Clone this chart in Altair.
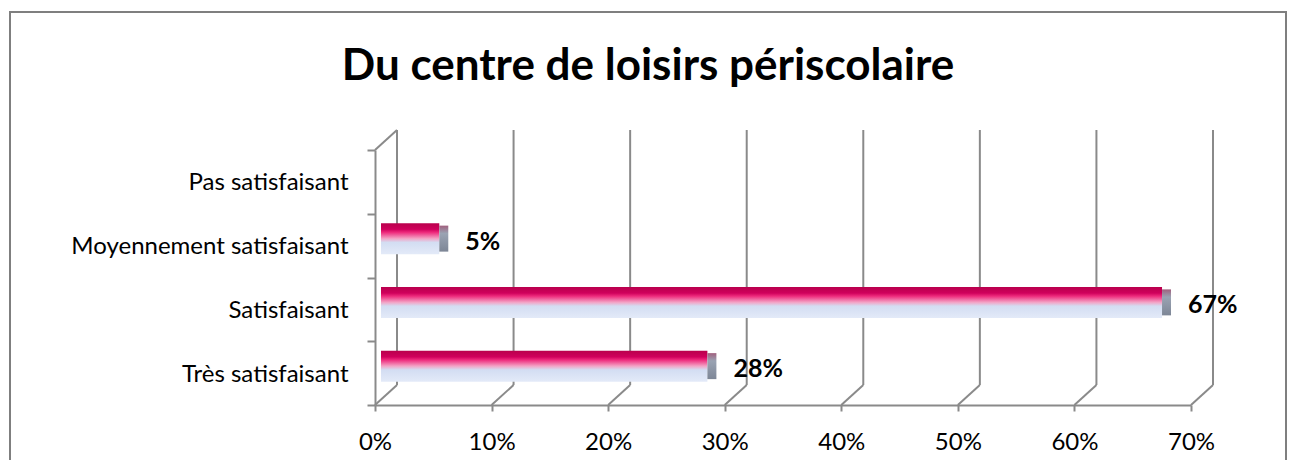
import altair as alt
import pandas as pd

TITLE = "Du centre de loisirs périscolaire"
categories = ["Pas satisfaisant", "Moyennement satisfaisant", "Satisfaisant", "Très satisfaisant"]
values = [0.0, 0.05, 0.67, 0.28]
labels = ["", "5%", "67%", "28%"]
ticks = [0.0, 0.1, 0.2, 0.3, 0.4, 0.5, 0.6, 0.7]

df = pd.DataFrame({"cat": categories, "value": values, "label": labels})
tdf = pd.DataFrame({"t": ticks})
one = pd.DataFrame({"t": [0]})

W, H = 816, 255
FONT = "Lato"
GRID = "#8a8a8a"

xscale = alt.Scale(domain=[0, 0.7], nice=False, zero=True)
yscale = alt.Scale(domain=categories, paddingInner=0, paddingOuter=0)

ax_x = alt.Axis(format=".0%", values=ticks, grid=False, domainColor=GRID, domainWidth=2,
                tickColor=GRID, tickWidth=2, tickSize=6, labelFontSize=24, labelFont=FONT,
                labelColor="#000000", labelPadding=19, labelFlush=False, title=None, zindex=1)
ax_y = alt.Axis(grid=False, domainColor=GRID, domainWidth=2, tickColor=GRID, tickWidth=2,
                tickSize=8, tickBand="extent", labelFontSize=24, labelFont=FONT,
                labelColor="#000000", labelPadding=19, labelLimit=0, labelOffset=1,
                title=None, zindex=1)

base = alt.Chart(df)

# outer frame
frame = alt.Chart(one).mark_rect(fillOpacity=0, stroke="#7f7f7f", strokeWidth=2).encode(
    x=alt.value(-365), x2=alt.value(911), y=alt.value(-138), y2=alt.value(340)
)

title = alt.Chart(one).mark_text(text=TITLE, font=FONT, fontSize=44, fontWeight="bold",
                                 align="center", baseline="alphabetic", color="#000000").encode(
    x=alt.value(273), y=alt.value(-70)
)

# back wall gridlines (3D offset)
grid_back = alt.Chart(tdf).mark_rule(color=GRID, strokeWidth=2, xOffset=22).encode(
    x=alt.X("t:Q", scale=xscale, axis=ax_x), y=alt.value(-20), y2=alt.value(H - 20)
)
grid_floor = alt.Chart(tdf).mark_rule(color=GRID, strokeWidth=2, x2Offset=22).encode(
    x=alt.X("t:Q", scale=xscale), x2="t:Q", y=alt.value(H), y2=alt.value(H - 20)
)
wall_top = alt.Chart(one).mark_rule(color=GRID, strokeWidth=2, x2Offset=22).encode(
    x=alt.X("t:Q", scale=xscale), x2="t:Q", y=alt.value(0), y2=alt.value(-20)
)

grad = alt.Gradient(
    gradient="linear", x1=0, x2=0, y1=0, y2=1,
    stops=[
        alt.GradientStop(color="#b8004c", offset=0.0),
        alt.GradientStop(color="#d0005c", offset=0.2),
        alt.GradientStop(color="#ee2a7c", offset=0.3),
        alt.GradientStop(color="#f3a4c6", offset=0.5),
        alt.GradientStop(color="#d3ddf2", offset=0.62),
        alt.GradientStop(color="#e3eaf8", offset=1.0),
    ],
)
side = alt.Gradient(
    gradient="linear", x1=0, x2=0, y1=0, y2=1,
    stops=[
        alt.GradientStop(color="#a0607e", offset=0.0),
        alt.GradientStop(color="#9aa3b3", offset=0.3),
        alt.GradientStop(color="#7d8696", offset=1.0),
    ],
)

bars = base.transform_filter("datum.value > 0").mark_bar(
    color=grad, height=31, yOffset=-7, xOffset=6, x2Offset=6, cornerRadius=0
).encode(
    x=alt.X("value:Q", scale=xscale),
    y=alt.Y("cat:N", scale=yscale, sort=categories, axis=ax_y),
)
sides = base.transform_filter("datum.value > 0").mark_bar(
    color=side, height=26, yOffset=-7, xOffset=6, x2Offset=15
).encode(
    x=alt.X("value:Q", scale=xscale), x2="value:Q",
    y=alt.Y("cat:N", scale=yscale, sort=categories),
)
texts = base.transform_filter("datum.value > 0").mark_text(
    font=FONT, fontSize=25, fontWeight="bold", align="left", baseline="middle",
    dx=32, dy=-4, color="#000000"
).encode(
    x=alt.X("value:Q", scale=xscale),
    y=alt.Y("cat:N", scale=yscale, sort=categories),
    text="label:N",
)

chart = alt.layer(frame, title, grid_back, grid_floor, wall_top, bars, sides, texts).properties(
    width=W, height=H,
    background="white",
    autosize=alt.AutoSizeParams(type="none"),
    padding={"left": 367, "top": 142, "right": 97, "bottom": 55},
).configure_view(strokeWidth=0, stroke="transparent")

chart.save("out.html", embed_options={"renderer": "svg", "actions": False})
